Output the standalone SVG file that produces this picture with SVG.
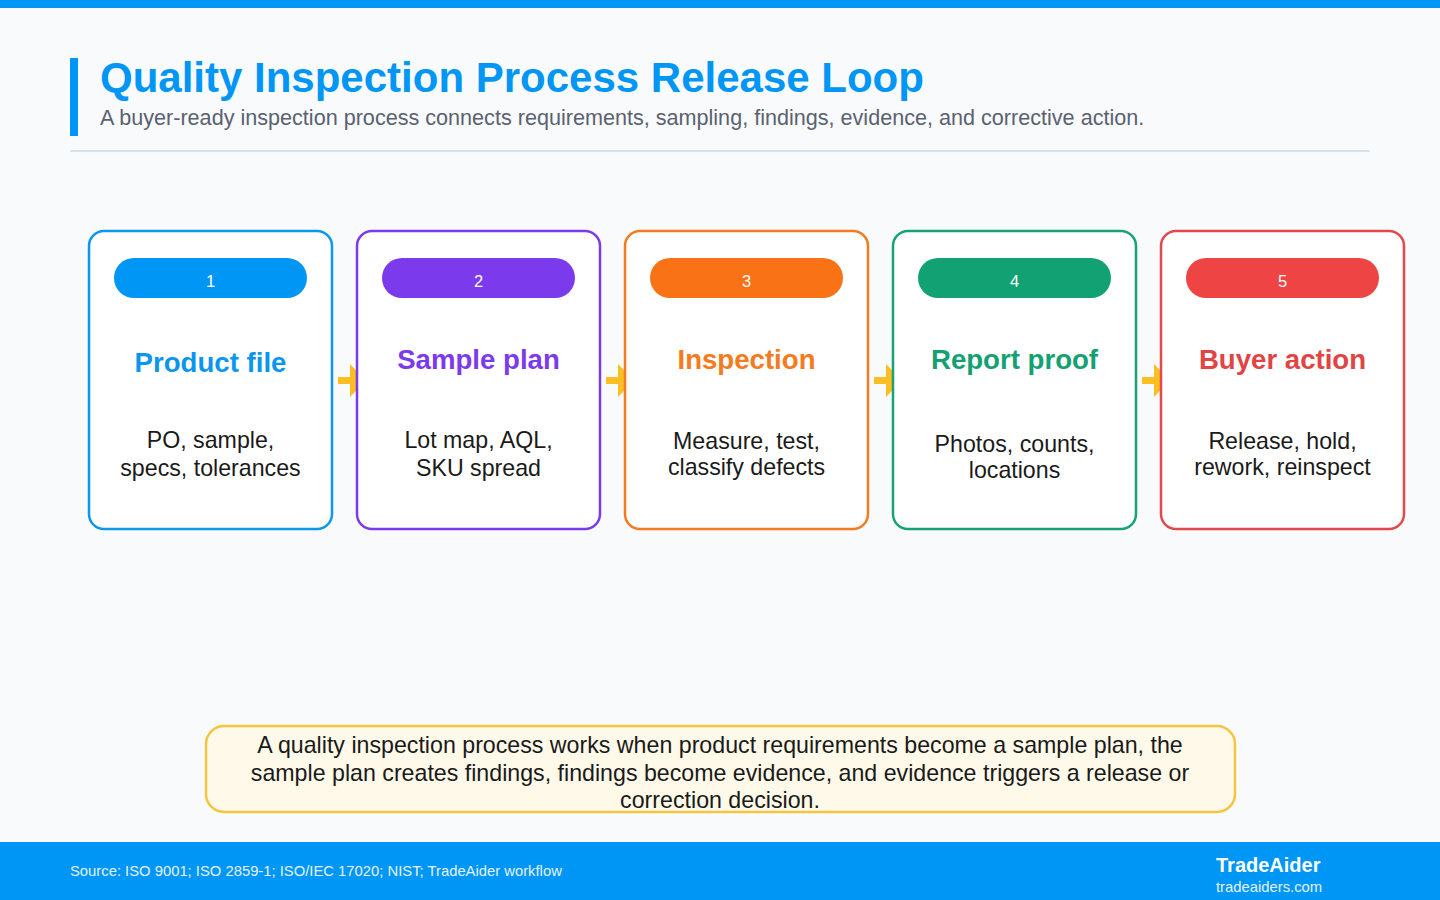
<svg xmlns="http://www.w3.org/2000/svg" width="1440" height="900" viewBox="0 0 1440 900">
<defs>
<style>
.card{fill:#ffffff;stroke-width:2.5}
.pilltxt{font-family:"Liberation Sans",Arial,sans-serif;font-size:16.5px;fill:#ffffff;text-anchor:middle}
.ttl{font-family:"Liberation Sans",Arial,sans-serif;font-size:27.6px;font-weight:bold;text-anchor:middle}
.desc{font-family:"Liberation Sans",Arial,sans-serif;font-size:23.2px;fill:#1a1a1a;text-anchor:middle}
.arrow{fill:#fbbf24}
</style>
</defs>
<rect x="0" y="0" width="1440" height="900" fill="#f8fafc"/>
<rect x="0" y="0" width="1440" height="8" fill="#0096f5"/>
<g id="header">
<rect x="70" y="58" width="8" height="78" fill="#0096f5"/>
<text x="100" y="92" font-family="'Liberation Sans',Arial,sans-serif" font-size="42" font-weight="bold" fill="#0096f5">Quality Inspection Process Release Loop</text>
<text x="100" y="125" font-family="'Liberation Sans',Arial,sans-serif" font-size="21.6" fill="#5b6170">A buyer-ready inspection process connects requirements, sampling, findings, evidence, and corrective action.</text>
<rect x="70" y="150" width="1300" height="2" fill="#d3e3ef"/>
</g>
<g id="connectors">
<g class="arrow">
<rect x="338" y="377" width="14" height="7"/><polygon points="350,364 366,380.5 350,397"/>
<rect x="606" y="377" width="14" height="7"/><polygon points="618,364 634,380.5 618,397"/>
<rect x="874" y="377" width="14" height="7"/><polygon points="886,364 902,380.5 886,397"/>
<rect x="1142" y="377" width="14" height="7"/><polygon points="1154,364 1170,380.5 1154,397"/>
</g>
</g>
<g id="node1">
<rect class="card" x="89" y="231" width="243" height="298" rx="15" stroke="#0c97ee"/>
<rect x="114" y="258" width="193" height="40" rx="20" fill="#0096f5"/>
<text class="pilltxt" x="210.5" y="287">1</text>
<text class="ttl" x="210.5" y="372" fill="#0a96ee">Product file</text>
<text class="desc" x="210.5" y="448">PO, sample,</text>
<text class="desc" x="210.5" y="476">specs, tolerances</text>
</g>
<g id="node2">
<rect class="card" x="357" y="231" width="243" height="298" rx="15" stroke="#7c3aed"/>
<rect x="382" y="258" width="193" height="40" rx="20" fill="#7c3aed"/>
<text class="pilltxt" x="478.5" y="287">2</text>
<text class="ttl" x="478.5" y="369" fill="#7c3aed">Sample plan</text>
<text class="desc" x="478.5" y="448">Lot map, AQL,</text>
<text class="desc" x="478.5" y="476">SKU spread</text>
</g>
<g id="node3">
<rect class="card" x="625" y="231" width="243" height="298" rx="15" stroke="#f47b20"/>
<rect x="650" y="258" width="193" height="40" rx="20" fill="#f97316"/>
<text class="pilltxt" x="746.5" y="287">3</text>
<text class="ttl" x="746.5" y="369" fill="#f47b20">Inspection</text>
<text class="desc" x="746.5" y="449">Measure, test,</text>
<text class="desc" x="746.5" y="475">classify defects</text>
</g>
<g id="node4">
<rect class="card" x="893" y="231" width="243" height="298" rx="15" stroke="#18a276"/>
<rect x="918" y="258" width="193" height="40" rx="20" fill="#12a173"/>
<text class="pilltxt" x="1014.5" y="287">4</text>
<text class="ttl" x="1014.5" y="369" fill="#14a073">Report proof</text>
<text class="desc" x="1014.5" y="452">Photos, counts,</text>
<text class="desc" x="1014.5" y="478">locations</text>
</g>
<g id="node5">
<rect class="card" x="1161" y="231" width="243" height="298" rx="15" stroke="#e04a4a"/>
<rect x="1186" y="258" width="193" height="40" rx="20" fill="#ef4444"/>
<text class="pilltxt" x="1282.5" y="287">5</text>
<text class="ttl" x="1282.5" y="369" fill="#e04444">Buyer action</text>
<text class="desc" x="1282.5" y="449">Release, hold,</text>
<text class="desc" x="1282.5" y="475">rework, reinspect</text>
</g>
<g id="summary">
<rect x="206" y="726" width="1029" height="86" rx="18" fill="#fef9e8" stroke="#f5c542" stroke-width="2.5"/>
<text class="desc" x="720" y="753">A quality inspection process works when product requirements become a sample plan, the</text>
<text class="desc" x="720" y="781">sample plan creates findings, findings become evidence, and evidence triggers a release or</text>
<text class="desc" x="720" y="808">correction decision.</text>
</g>
<g id="footer">
<rect x="0" y="842" width="1440" height="58" fill="#0096f5"/>
<text x="70" y="876" font-family="'Liberation Sans',Arial,sans-serif" font-size="14.8" fill="#e3f2ff">Source: ISO 9001; ISO 2859-1; ISO/IEC 17020; NIST; TradeAider workflow</text>
<text x="1216" y="872" font-family="'Liberation Sans',Arial,sans-serif" font-size="20" font-weight="bold" fill="#ffffff">TradeAider</text>
<text x="1216" y="892" font-family="'Liberation Sans',Arial,sans-serif" font-size="14.8" fill="#e3f2ff">tradeaiders.com</text>
</g>
</svg>
